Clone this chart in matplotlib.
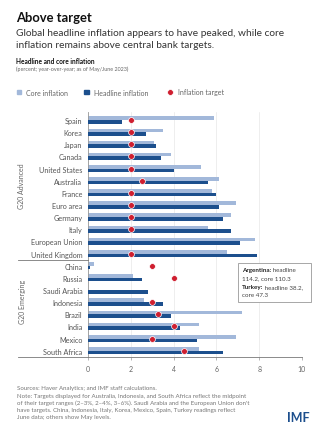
import matplotlib
matplotlib.use("Agg")
import matplotlib.pyplot as plt
from matplotlib.lines import Line2D
from matplotlib.patches import Rectangle
from matplotlib.text import Annotation
import numpy as np

plt.rcParams['font.family'] = ['Lato', 'DejaVu Sans']

countries = ["Spain", "Korea", "Japan", "Canada", "United States", "Australia", "France",
             "Euro area", "Germany", "Italy", "European Union", "United Kingdom",
             "China", "Russia", "Saudi Arabia", "Indonesia", "Brazil", "India", "Mexico", "South Africa"]
core = [5.9, 3.5, 3.1, 3.9, 5.3, 6.1, 5.8, 6.9, 6.7, 5.6, 7.8, 6.5,
        0.3, 2.1, np.nan, 2.6, 7.2, 5.2, 6.9, 5.2]
headline = [1.6, 2.7, 3.2, 3.4, 4.0, 5.6, 6.0, 6.1, 6.3, 6.7, 7.1, 7.9,
            0.1, 2.5, 2.8, 3.5, 3.9, 4.3, 5.1, 6.3]
target = [2, 2, 2, 2, 2, 2.5, 2, 2, 2, 2, np.nan, 2,
          3, 4, np.nan, 3, 3.25, 4, 3, 4.5]
groups = ["G20 Advanced", "G20 Emerging"]
group_sizes = [12, 8]
xticks = [0, 2, 4, 6, 8, 10]

CORE_C = "#a2b8da"
HEAD_C = "#1c4f8d"
RED_C = "#cf1f30"
GRAY = "#666666"

W, H = 326, 435
fig = plt.figure(figsize=(W / 100, H / 100), dpi=100)

def fx(x):
    return x / W

def fy(y):
    return 1 - y / H

# axes
ax = fig.add_axes([fx(88), fy(358), fx(302) - fx(88), fy(113) - fy(358)])
y = np.arange(len(countries))
bh = 0.3
ax.barh(y - 0.15, core, height=bh, color=CORE_C, zorder=2)
ax.barh(y + 0.15, headline, height=bh, color=HEAD_C, zorder=3)
ax.plot(target, y, 'o', color=RED_C, markersize=4.2, markeredgecolor='white',
        markeredgewidth=0.5, zorder=4, linestyle='none')
ax.set_xlim(0, 10)
ax.set_ylim(len(countries) - 0.48, -0.66)
ax.set_xticks(xticks)
ax.set_xticklabels([str(t) for t in xticks], fontsize=5, color=GRAY)
ax.set_yticks(y)
ax.set_yticklabels(countries, fontsize=5.2, color="#555555")
ax.tick_params(axis='y', length=0, pad=4)
ax.tick_params(axis='x', length=2.5, width=0.5, color="#999999", pad=3)
ax.grid(axis='x', color="#e8e8e8", linewidth=0.5, zorder=0)
for s in ['top', 'right', 'bottom']:
    ax.spines[s].set_visible(False)
ax.spines['left'].set_color("#999999")
ax.spines['left'].set_linewidth(0.6)

# bottom axis line extended left
fig.add_artist(Line2D([fx(18), fx(302)], [fy(358), fy(358)], color="#777777", linewidth=0.6))
# separator
fig.add_artist(Line2D([fx(18), fx(88)], [fy(260.8), fy(260.8)], color="#777777", linewidth=0.6))

# group labels
fig.text(fx(22), fy(186), groups[0], rotation=90, ha='center', va='center', fontsize=5, color=GRAY)
fig.text(fx(22), fy(302), groups[1], rotation=90, ha='center', va='center', fontsize=5, color=GRAY)

# titles
fig.text(fx(16), fy(18), "Above target", fontsize=9.4, fontweight='bold', color="#111111", va='center')
fig.text(fx(16), fy(33), "Global headline inflation appears to have peaked, while core",
         fontsize=7.3, color="#333333", va='center')
fig.text(fx(16), fy(45.5), "inflation remains above central bank targets.",
         fontsize=7.3, color="#333333", va='center')
fig.text(fx(16), fy(62), "Headline and core inflation", fontsize=4.7, fontweight='bold', color="#111111", va='center')
fig.text(fx(16), fy(69.5), "(percent; year-over-year; as of May/June 2023)", fontsize=3.9, color=GRAY, va='center')

# legend
ly = 93
fig.add_artist(Rectangle((fx(16.5), fy(ly + 2.4)), fx(4.8), fy(0) - fy(4.8), color=CORE_C))
fig.text(fx(26), fy(ly), "Core inflation", fontsize=5, color=GRAY, va='center')
fig.add_artist(Rectangle((fx(84), fy(ly + 2.4)), fx(4.8), fy(0) - fy(4.8), color=HEAD_C))
fig.text(fx(94), fy(ly), "Headline inflation", fontsize=5, color=GRAY, va='center')
fig.add_artist(Line2D([fx(169.5)], [fy(ly)], marker='o', color=RED_C, markersize=4.2,
                      markeredgecolor='white', markeredgewidth=0.5, linestyle='none'))
fig.text(fx(177.5), fy(ly), "Inflation target", fontsize=5, color=GRAY, va='center')

# annotation box
fig.add_artist(Rectangle((fx(238), fy(303)), fx(311) - fx(238), fy(264) - fy(303),
                         facecolor='white', edgecolor="#999999", linewidth=0.6, zorder=5))
fs = 4.5
t1 = fig.text(fx(242), fy(271), "Argentina:", fontsize=fs, fontweight='bold', color="#222222", va='center', zorder=6)
fig.add_artist(Annotation(" headline", xy=(1, 0.5), xycoords=t1, va='center', ha='left',
                          fontsize=fs, color="#444444", zorder=6))
fig.text(fx(242), fy(279), "114.2, core 110.3", fontsize=fs, color="#444444", va='center', zorder=6)
t2 = fig.text(fx(242), fy(287.5), "Turkey:", fontsize=fs, fontweight='bold', color="#222222", va='center', zorder=6)
fig.add_artist(Annotation(" headline 38.2,", xy=(1, 0.5), xycoords=t2, va='center', ha='left',
                          fontsize=fs, color="#444444", zorder=6))
fig.text(fx(242), fy(296), "core 47.3", fontsize=fs, color="#444444", va='center', zorder=6)

# footnotes
notes = [
    "Sources: Haver Analytics; and IMF staff calculations.",
    "Note: Targets displayed for Australia, Indonesia, and South Africa reflect the midpoint",
    "of their target ranges (2\u20133%, 2\u20134%, 3\u20136%). Saudi Arabia and the European Union don't",
    "have targets. China, Indonesia, Italy, Korea, Mexico, Spain, Turkey readings reflect",
    "June data; others show May levels.",
]
for i, line in enumerate(notes):
    fig.text(fx(17), fy(389 + i * 7.1), line, fontsize=4.45, color="#777777", va='center')

fig.text(fx(310), fy(418), "IMF", fontsize=9, fontweight='bold', color="#1c4f8d", ha='right', va='center')

fig.savefig("out.png", dpi=100)
